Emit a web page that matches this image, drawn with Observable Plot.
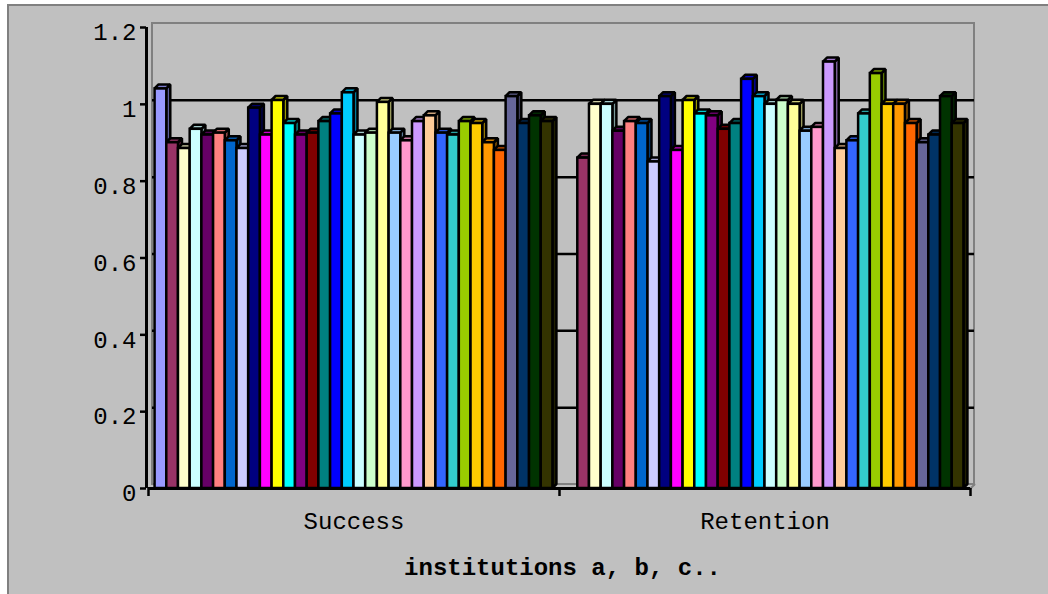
<!DOCTYPE html>
<html><head><meta charset="utf-8">
<script src="https://cdn.jsdelivr.net/npm/d3@7"></script>
<script src="https://cdn.jsdelivr.net/npm/@observablehq/plot@0.6"></script>
<style>
html,body{margin:0;padding:0;background:#fff;width:1048px;height:594px;overflow:hidden}
#frame{position:absolute;left:7px;top:4px;width:1060px;height:610px;background:#c0c0c0;border-left:2px solid #808080;border-top:2px solid #808080;box-sizing:border-box}
#chart{position:absolute;left:0;top:0}
</style></head><body><div id="frame"></div><div id="chart"></div>
<script>
const categories = ["Success", "Retention"];
const seriesColors = ["#9999FF","#993366","#FFFFCC","#CCFFFF","#660066","#FF8080","#0066CC","#CCCCFF",
  "#000080","#FF00FF","#FFFF00","#00FFFF","#800080","#800000","#008080","#0000FF","#00CCFF","#CCFFFF",
  "#CCFFCC","#FFFF99","#99CCFF","#FF99CC","#CC99FF","#FFCC99","#3366FF","#33CCCC","#99CC00","#FFCC00",
  "#FF9900","#FF6600","#666699","#003366","#003300","#333300"];
const successValues = [1.04, 0.90, 0.885, 0.935, 0.92, 0.925, 0.905, 0.885, 0.99, 0.92, 1.01, 0.95,
  0.92, 0.925, 0.955, 0.975, 1.03, 0.92, 0.925, 1.005, 0.925, 0.905, 0.955, 0.97, 0.925, 0.92, 0.955,
  0.95, 0.90, 0.88, 1.02, 0.95, 0.97, 0.955];
const retentionValues = [null, 0.86, 1.0, 1.0, 0.93, 0.955, 0.95, 0.85, 1.02, 0.88, 1.01, 0.975,
  0.97, 0.935, 0.95, 1.065, 1.02, 1.0, 1.01, 1.0, 0.93, 0.94, 1.11, 0.885, 0.905, 0.975, 1.08,
  1.0, 1.0, 0.95, 0.90, 0.92, 1.02, 0.95];
const yTicks = [0, 0.2, 0.4, 0.6, 0.8, 1, 1.2];
const xLabel = "institutions a, b, c..";

const W = 1048, H = 594, mL = 148, mR = 78, mT = 27, mB = 106;
const yMax = 1.2;
const depthPx = 4;
const groupPad = 0.016;
const nS = seriesColors.length;
const slot = (1 - 2 * groupPad) / nS;
const dX = depthPx * categories.length / (W - mL - mR);
const dY = depthPx * yMax / (H - mT - mB);
const font = "'Liberation Mono', 'Courier New', monospace";
const sw = 2.5;

function shade(c, k) { const r = d3.rgb(c); return d3.rgb(r.r * k, r.g * k, r.b * k).formatHex(); }

const valuesByCat = [successValues, retentionValues];
const bars = [];
categories.forEach((cat, ci) => valuesByCat[ci].forEach((v, si) => {
  if (v == null) return;
  const x1 = ci + groupPad + si * slot;
  bars.push({id: bars.length, cat, si, v, x1, x2: x1 + slot, color: seriesColors[si]});
}));

const topPts = bars.flatMap(b => {
  const f = shade(b.color, 0.8);
  return [
    {id: b.id, x: b.x1, y1: b.v, y2: b.v, fill: f},
    {id: b.id, x: b.x1 + dX, y1: b.v, y2: b.v + dY, fill: f},
    {id: b.id, x: b.x2, y1: b.v, y2: b.v + dY, fill: f},
    {id: b.id, x: b.x2 + dX, y1: b.v + dY, y2: b.v + dY, fill: f}
  ];
});
const sidePts = bars.flatMap(b => {
  const f = shade(b.color, 0.6);
  return [
    {id: b.id, x: b.x2, y1: 0, y2: b.v, fill: f},
    {id: b.id, x: b.x2 + dX, y1: dY, y2: b.v + dY, fill: f}
  ];
});

const chart = Plot.plot({
  width: W, height: H,
  marginLeft: mL, marginRight: mR, marginTop: mT, marginBottom: mB,
  x: {domain: [0, categories.length]},
  y: {domain: [0, yMax]},
  color: {type: "identity"},
  style: {background: "transparent", fontFamily: font, fontSize: "24px", color: "#000", overflow: "visible"},
  marks: [
    // back wall
    Plot.rect([0], {x1: dX, x2: categories.length + dX, y1: dY, y2: yMax + dY, fill: "none", stroke: "#808080", strokeWidth: 2}),
    Plot.ruleY(yTicks.filter(t => t > 0 && t < yMax), {y: t => t + dY, x1: dX, x2: categories.length + dX, stroke: "#000", strokeWidth: 2.5}),
    Plot.line([[categories.length, 0], [categories.length + dX, dY]], {x: d => d[0], y: d => d[1], stroke: "#808080", strokeWidth: 2}),
    // bars
    Plot.areaY(sidePts, {x: "x", y1: "y1", y2: "y2", z: "id", fill: "fill", stroke: "#000", strokeWidth: sw, strokeLinejoin: "miter"}),
    Plot.areaY(topPts, {x: "x", y1: "y1", y2: "y2", z: "id", fill: "fill", stroke: "#000", strokeWidth: sw, strokeLinejoin: "miter"}),
    Plot.rect(bars, {x1: "x1", x2: "x2", y1: () => 0, y2: "v", fill: "color", stroke: "#000", strokeWidth: sw}),
    // axes
    Plot.ruleX([0], {y1: 0, y2: yMax, stroke: "#000", strokeWidth: 3, dx: -2}),
    Plot.ruleY([0], {stroke: "#000", strokeWidth: 3}),
    Plot.axisY(yTicks, {tickSize: 6, tickFormat: () => "", dx: -2, strokeWidth: 2.5, label: null}),
    Plot.axisX(d3.range(categories.length + 1), {tickSize: 8, tickFormat: () => "", strokeWidth: 2.5, label: null}),
    Plot.text(yTicks, {frameAnchor: "left", y: d => d, text: d => String(d), textAnchor: "end", dx: -12, dy: 5, fontSize: 24, fontFamily: font, fill: "#000"}),
    Plot.text(categories, {x: (d, i) => i + 0.5, frameAnchor: "bottom", text: d => d, dy: 40, fontSize: 24, fontFamily: font, fill: "#000"}),
    Plot.text([xLabel], {x: () => categories.length / 2, frameAnchor: "bottom", text: d => d, dy: 86, dx: 3, fontSize: 24, fontWeight: "bold", fontFamily: font, fill: "#000"})
  ]
});
document.getElementById("chart").appendChild(chart);
</script>
</body></html>
